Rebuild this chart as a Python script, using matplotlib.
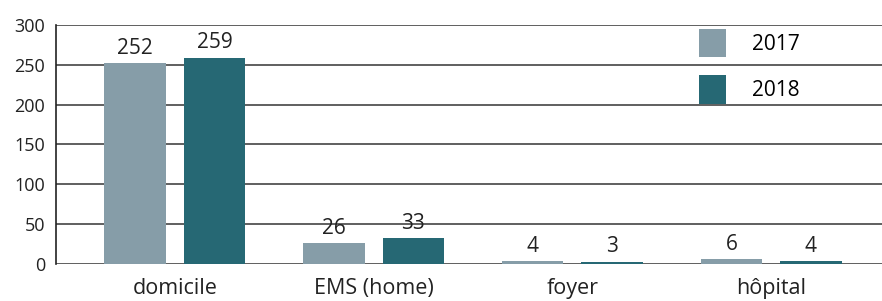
import numpy as np
import matplotlib.pyplot as plt

categories = ['domicile', 'EMS (home)', 'foyer', 'hôpital']
values_2017 = [252, 26, 4, 6]
values_2018 = [259, 33, 3, 4]
years = ['2017', '2018']

plt.rcParams['font.family'] = ['Open Sans', 'DejaVu Sans']

fig = plt.figure(figsize=(8.82, 3.01), dpi=100)
ax = fig.add_axes([0.0635, 0.123, 0.9365, 0.794])

x = np.arange(len(categories))
w = 0.31
b1 = ax.bar(x - 0.2, values_2017, w, color='#869da8', label=years[0], zorder=2)
b2 = ax.bar(x + 0.2, values_2018, w, color='#266874', label=years[1], zorder=2)

for bars in (b1, b2):
    for r in bars:
        ax.annotate(f'{int(r.get_height())}', (r.get_x() + r.get_width() / 2, r.get_height()),
                    textcoords='offset points', xytext=(0, 3), ha='center', va='bottom',
                    fontsize=15, color='#222222', zorder=3)

ax.set_xlim(-0.598, 3.558)
ax.set_ylim(0, 300)
ax.set_yticks(range(0, 301, 50))
ax.set_xticks(x)
ax.set_xticklabels(categories, fontsize=15.5, color='#222222')
ax.tick_params(axis='y', labelsize=13, colors='#222222', length=0, pad=8)
ax.tick_params(axis='x', length=0, pad=10)
ax.yaxis.grid(True, color='#444444', linewidth=1.2, zorder=0)
ax.set_axisbelow(True)
for s in ['top', 'right', 'bottom']:
    ax.spines[s].set_visible(False)
ax.spines['left'].set_color('#222222')
ax.spines['left'].set_linewidth(1.2)

leg = ax.legend(loc='upper left', bbox_to_anchor=(0.778, 0.985), frameon=False, fontsize=15,
                handlelength=1.3, handleheight=1.75, handletextpad=1.25, labelspacing=0.85,
                borderpad=0, borderaxespad=0)

fig.savefig('out.png', dpi=100)
